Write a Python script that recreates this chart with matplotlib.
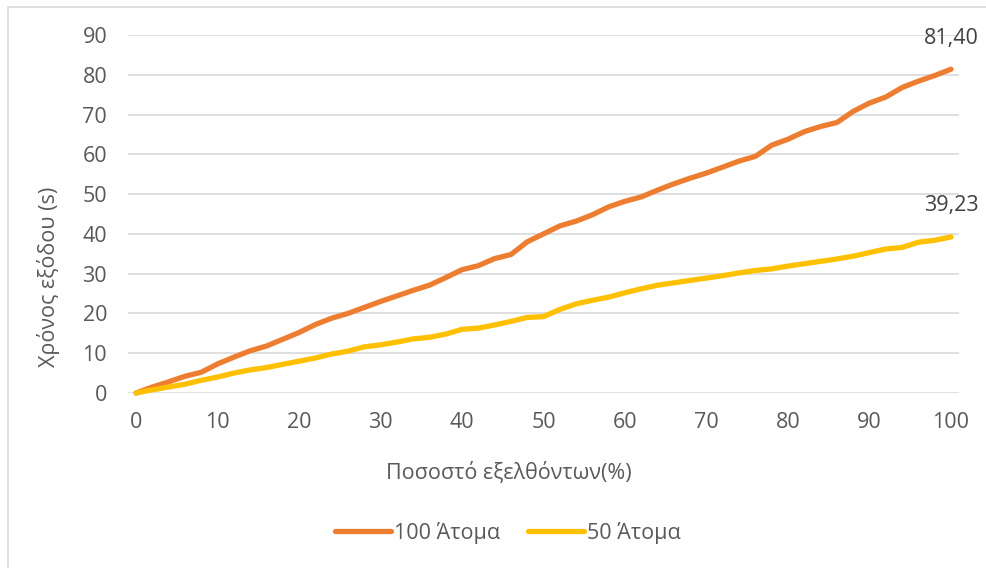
import matplotlib
matplotlib.use("Agg")
import matplotlib.pyplot as plt
from matplotlib.patches import Rectangle

plt.rcParams['font.family'] = ['Open Sans', 'DejaVu Sans']

x_pct = list(range(0, 101, 2))
people100 = [0, 1.5, 2.8, 4.2, 5.2, 7.3, 9.0, 10.6, 11.8, 13.5,
             15.2, 17.2, 18.8, 20.0, 21.5, 23.0, 24.4, 25.8, 27.1, 29.0,
             31.0, 32.0, 33.8, 34.8, 38.0, 40.0, 42.0, 43.2, 44.8, 46.8,
             48.2, 49.3, 51.0, 52.6, 54.0, 55.3, 56.8, 58.3, 59.5, 62.3,
             63.8, 65.7, 67.0, 68.0, 70.8, 72.9, 74.4, 76.8, 78.4, 79.8,
             81.40]
people50 = [0, 0.8, 1.5, 2.2, 3.2, 4.0, 5.0, 5.8, 6.4, 7.2,
            8.0, 8.8, 9.8, 10.5, 11.6, 12.1, 12.8, 13.6, 14.0, 14.8,
            16.0, 16.3, 17.1, 18.0, 19.0, 19.2, 21.0, 22.4, 23.3, 24.1,
            25.2, 26.2, 27.1, 27.7, 28.3, 28.9, 29.5, 30.2, 30.8, 31.2,
            31.9, 32.5, 33.1, 33.7, 34.4, 35.3, 36.2, 36.6, 37.9, 38.4,
            39.23]
series_names = ["100 Άτομα", "50 Άτομα"]
end_labels = ["81,40", "39,23"]

W, H = 987, 568
FS = 15.5
fig = plt.figure(figsize=(W / 100, H / 100), dpi=100)
fig.patch.set_facecolor('white')

# chart border (left/top visible)
fig.patches.append(Rectangle((8 / W, -0.05), 1.2, (H - 7) / H + 0.05,
                             transform=fig.transFigure, fill=False,
                             edgecolor='#D9D9D9', linewidth=1.2))

ax = fig.add_axes([128 / W, 1 - 393 / H, (959 - 128) / W, (393 - 35) / H])
ax.set_xlim(-0.98, 100.98)
ax.set_ylim(0, 90)
for s in ax.spines.values():
    s.set_visible(False)
ax.set_yticks(range(0, 91, 10))
ax.set_xticks(range(0, 101, 10))
ax.grid(axis='y', color='#D9D9D9', linewidth=1.2)
ax.set_axisbelow(True)
ax.tick_params(length=0, labelsize=FS, colors='#595959')
ax.tick_params(axis='y', pad=15)
ax.tick_params(axis='x', pad=14)

colors = ['#ED7D31', '#FFC000']
l1, = ax.plot(x_pct, people100, color=colors[0], lw=3.8, solid_capstyle='round',
              solid_joinstyle='round', label=series_names[0], clip_on=False)
l2, = ax.plot(x_pct, people50, color=colors[1], lw=3.8, solid_capstyle='round',
              solid_joinstyle='round', label=series_names[1], clip_on=False)

ax.annotate(end_labels[0], (x_pct[-1], people100[-1]), xytext=(0, 22),
            textcoords='offset points', ha='center', va='center',
            fontsize=FS, color='#404040')
ax.annotate(end_labels[1], (x_pct[-1], people50[-1]), xytext=(0, 23),
            textcoords='offset points', ha='center', va='center',
            fontsize=FS, color='#404040')

fig.text(509 / W, 1 - 473 / H, "Ποσοστό εξελθόντων(%)", ha='center', va='center',
         fontsize=FS, color='#595959')
fig.text(49 / W, 1 - 277 / H, "Χρόνος εξόδου (s)", ha='center', va='center',
         rotation=90, fontsize=FS, color='#595959')

fig.legend(handles=[l1, l2], loc='center', bbox_to_anchor=(508 / W, 1 - 533 / H),
           ncol=2, frameon=False, fontsize=FS, labelcolor='#595959',
           handlelength=2.6, handletextpad=0.15, columnspacing=1.3)

fig.savefig("out.png", dpi=100)
